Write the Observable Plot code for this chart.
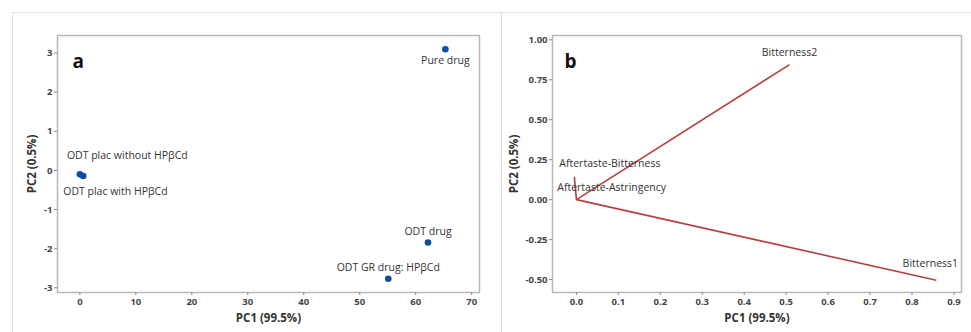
<!DOCTYPE html>
<html>
<head>
<meta charset="utf-8">
<script src="https://cdn.jsdelivr.net/npm/d3@7"></script>
<script src="https://cdn.jsdelivr.net/npm/@observablehq/plot@0.6"></script>
<style>
  html, body { margin: 0; padding: 0; background: #fff; }
  #wrap { position: relative; width: 971px; height: 332px; overflow: hidden; font-family: "Open Sans", "Noto Sans", sans-serif; }
  .hline { position: absolute; left: 12px; top: 12px; width: 959px; height: 1px; background: #e4e4e4; }
  .vline { position: absolute; top: 12px; width: 1px; height: 320px; background: #e0e0e0; }
  #pa { position: absolute; left: 12px; top: 12px; }
  #pb { position: absolute; left: 502px; top: 12px; }
  svg text { font-family: "Open Sans", "Noto Sans", sans-serif; }
</style>
</head>
<body>
<div id="wrap">
  <div class="hline"></div>
  <div class="vline" style="left:12px"></div>
  <div class="vline" style="left:501px"></div>
  <div id="pa"></div>
  <div id="pb"></div>
</div>
<script>
// Panel a: score plot
const scoreNames = ["Pure drug", "ODT drug", "ODT GR drug: HPβCd", "ODT plac without HPβCd", "ODT plac with HPβCd"];
const scorePC1 = [65.3, 62.2, 55.1, 0.0, 0.6];
const scorePC2 = [3.1, -1.84, -2.77, -0.10, -0.14];
const scoreXTicks = [0, 10, 20, 30, 40, 50, 60, 70];
const scoreYTicks = [-3, -2, -1, 0, 1, 2, 3];

// Panel b: loading plot
const loadNames = ["Bitterness2", "Bitterness1", "Aftertaste-Bitterness", "Aftertaste-Astringency"];
const loadPC1 = [0.508, 0.858, -0.005, 0.002];
const loadPC2 = [0.845, -0.504, 0.143, 0.006];
const loadXTicks = [0.0, 0.1, 0.2, 0.3, 0.4, 0.5, 0.6, 0.7, 0.8, 0.9];
const loadYTicks = [-0.50, -0.25, 0.00, 0.25, 0.50, 0.75, 1.00];

// label placement (styling)
const scoreLabelStyle = {
  "Pure drug": {dx: 0, dy: 11, anchor: "middle"},
  "ODT drug": {dx: 0, dy: -11, anchor: "middle"},
  "ODT GR drug: HPβCd": {dx: 0, dy: -11, anchor: "middle"},
  "ODT plac without HPβCd": {dx: -13, dy: -19, anchor: "start"},
  "ODT plac with HPβCd": {dx: -20, dy: 16, anchor: "start"}
};
const loadLabelStyle = {
  "Bitterness2": {dx: 0, dy: -12, anchor: "middle"},
  "Bitterness1": {dx: -6, dy: -17, anchor: "middle"},
  "Aftertaste-Bitterness": {dx: -15, dy: -13, anchor: "start"},
  "Aftertaste-Astringency": {dx: -20, dy: -11, anchor: "start"}
};

const scores = scoreNames.map((n, i) => ({name: n, x: scorePC1[i], y: scorePC2[i]}));
const loads = loadNames.map((n, i) => ({name: n, x: loadPC1[i], y: loadPC2[i]}));

const hy = s => s.replace("−", "-");
const tickStyle = {fontSize: 9.5, fontWeight: 700, fill: "#444", tickSize: 3, stroke: "#888"};

function labelMarks(data, styles, opts) {
  return data.map(d => {
    const s = styles[d.name];
    return Plot.text([d], {x: "x", y: "y", text: "name", dx: s.dx, dy: s.dy, textAnchor: s.anchor,
      fontSize: 10.5, fill: "#333", ...opts});
  });
}

const plotA = Plot.plot({
  width: 489, height: 320,
  marginLeft: 45, marginRight: 22, marginTop: 23, marginBottom: 40,
  x: {domain: [-4, 71.4]},
  y: {domain: [-3.12, 3.45]},
  style: {background: "transparent", color: "#444"},
  marks: [
    Plot.frame({stroke: "#b8b8b8", strokeWidth: 1.5}),
    Plot.axisX({ticks: scoreXTicks, tickFormat: d => hy(String(d)), tickPadding: 3, ...tickStyle,
      label: "PC1 (99.5%)", labelAnchor: "center", labelArrow: "none", labelOffset: 29}),
    Plot.axisY({ticks: scoreYTicks, tickFormat: d => hy(String(d)), tickPadding: 2, ...tickStyle,
      label: "PC2 (0.5%)", labelAnchor: "center", labelArrow: "none", labelOffset: 30}),
    Plot.dot(scores, {x: "x", y: "y", r: 3.3, fill: "#0a4da3", stroke: "none"}),
    ...labelMarks(scores, scoreLabelStyle, {}),
    Plot.text(["a"], {frameAnchor: "top-left", dx: 15, dy: 19, text: d => d, fontSize: 19, fontWeight: 700, fill: "#111"})
  ]
});

const plotB = Plot.plot({
  width: 469, height: 320,
  marginLeft: 50, marginRight: 10, marginTop: 23, marginBottom: 40,
  x: {domain: [-0.057, 0.918]},
  y: {domain: [-0.581, 1.027]},
  style: {background: "transparent", color: "#444"},
  marks: [
    Plot.frame({stroke: "#b8b8b8", strokeWidth: 1.5}),
    Plot.axisX({ticks: loadXTicks, tickFormat: d => hy(d3.format(".1f")(d)), tickPadding: 3, ...tickStyle,
      label: "PC1 (99.5%)", labelAnchor: "center", labelArrow: "none", labelOffset: 29}),
    Plot.axisY({ticks: loadYTicks, tickFormat: d => hy(d3.format(".2f")(d)), tickPadding: 2, ...tickStyle,
      label: "PC2 (0.5%)", labelAnchor: "center", labelArrow: "none", labelOffset: 43}),
    Plot.link(loads, {x1: () => 0, y1: () => 0, x2: "x", y2: "y", stroke: "#b5403f", strokeWidth: 1.6}),
    ...labelMarks(loads, loadLabelStyle, {}),
    Plot.text(["b"], {frameAnchor: "top-left", dx: 12, dy: 19, text: d => d, fontSize: 19, fontWeight: 700, fill: "#111"})
  ]
});

document.getElementById("pa").appendChild(plotA);
document.getElementById("pb").appendChild(plotB);

// axis title styling
for (const svg of [plotA, plotB]) {
  svg.querySelectorAll("g[aria-label='x-axis label'] text, g[aria-label='y-axis label'] text").forEach(t => {
    t.setAttribute("font-size", 11.5);
    t.setAttribute("font-weight", 700);
    t.setAttribute("fill", "#333");
  });
  svg.querySelectorAll("g[aria-label='x-axis label'], g[aria-label='y-axis label']").forEach(g => {
    g.setAttribute("font-size", 11.5);
    g.setAttribute("font-weight", 700);
  });
}
</script>
</body>
</html>
